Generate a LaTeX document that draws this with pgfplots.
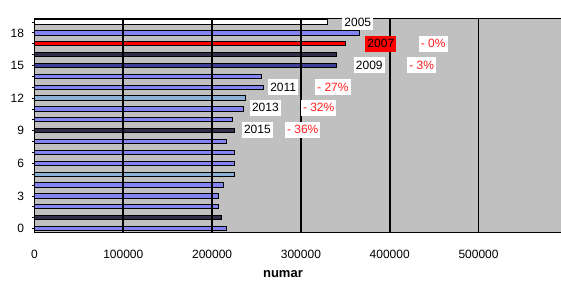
\documentclass[border=0pt]{standalone}
\usepackage{fontspec}
\setmainfont{Liberation Sans}
\usepackage{pgfplots}
\pgfplotsset{compat=1.18}
\definecolor{barblue}{RGB}{132,132,240}
\definecolor{bardark}{RGB}{48,48,72}
\definecolor{barnavy}{RGB}{64,64,150}
\definecolor{barsteel}{RGB}{140,176,214}
\definecolor{bggray}{RGB}{192,192,192}
\definecolor{pctred}{RGB}{255,30,30}
\begin{document}
\begin{tikzpicture}[x=1pt,y=1pt]
\path[use as bounding box] (0,0) rectangle (561,284);
\fill[white] (0,0) rectangle (561,284);
\begin{axis}[
  at={(34.5pt,52pt)}, anchor=south west,
  scale only axis, width=527.5pt, height=214pt,
  xmin=0, xmax=594000, ymin=-0.32, ymax=19.37,
  axis background/.style={fill=bggray},
  axis on top,
  axis line style={black, line width=1pt},
  xbar, bar width=4.3pt,
  xtick={0,100000,200000,300000,400000,500000},
  xmajorgrids, major grid style={black, line width=1.8pt},
  xtick style={draw=none},
  scaled x ticks=false,
  xticklabel style={/pgf/number format/fixed, /pgf/number format/1000 sep={}, font=\fontsize{12}{14}\selectfont, yshift=-12pt},
  ytick={0,3,...,18},
  minor ytick={0,1,...,19},
  ytick pos=left, tick align=outside,
  major tick length=3pt, minor tick length=3pt,
  ytick style={black, line width=0.8pt},
  minor tick style={black, line width=0.8pt},
  yticklabel style={font=\fontsize{12}{14}\selectfont, xshift=-4pt},
  /pgf/number format/assume math mode=true,
  xlabel={\textbf{numar}},
  every axis x label/.style={at={(rel axis cs:0.471,0)}, anchor=north, yshift=-35pt, font=\fontsize{13}{15}\selectfont},
  clip=false,
]
\addplot[bar shift=0pt, draw=black, line width=1pt, fill=white] coordinates {(330000,19)};
\addplot[bar shift=0pt, draw=black, line width=1pt, fill=barblue] coordinates {
 (366000,18) (256000,14) (258000,13) (235500,11) (223000,10) (216000,8)
 (225000,7) (225000,6) (213000,4) (207000,3) (207000,2) (216000,0)};
\addplot[bar shift=0pt, draw=black, line width=1pt, fill=red] coordinates {(350000,17)};
\addplot[bar shift=0pt, draw=black, line width=1pt, fill=bardark] coordinates {(340000,16) (225000,9) (211000,1)};
\addplot[bar shift=0pt, draw=black, line width=1pt, fill=barnavy] coordinates {(340000,15)};
\addplot[bar shift=0pt, draw=black, line width=1pt, fill=barsteel] coordinates {(238000,12) (225000,5)};

\coordinate (l2005) at (axis cs:364000,19);
\coordinate (l2007) at (axis cs:390000,17);
\coordinate (p2007) at (axis cs:449000,17);
\coordinate (l2009) at (axis cs:377000,15);
\coordinate (p2009) at (axis cs:436000,15);
\coordinate (l2011) at (axis cs:280000,13);
\coordinate (p2011) at (axis cs:336000,13);
\coordinate (l2013) at (axis cs:260000,11.1);
\coordinate (p2013) at (axis cs:320000,11.1);
\coordinate (l2015) at (axis cs:251000,9.1);
\coordinate (p2015) at (axis cs:302000,9.1);
\end{axis}
\tikzset{lab/.style={font=\fontsize{12}{14}\selectfont, text height=9pt, text depth=1pt, inner xsep=2pt, inner ysep=3pt, fill=white},
         pct/.style={lab, text=pctred}}
\node[lab] at (l2005) {2005};
\node[lab, fill=red] at (l2007) {2007};
\node[pct] at (p2007) {- 0\%};
\node[lab] at (l2009) {2009};
\node[pct] at (p2009) {- 3\%};
\node[lab] at (l2011) {2011};
\node[pct] at (p2011) {- 27\%};
\node[lab] at (l2013) {2013};
\node[pct] at (p2013) {- 32\%};
\node[lab] at (l2015) {2015};
\node[pct] at (p2015) {- 36\%};
\end{tikzpicture}
\end{document}
